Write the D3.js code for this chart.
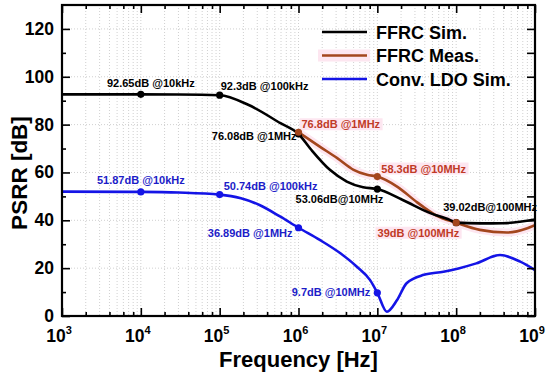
<!DOCTYPE html>
<html>
<head>
<meta charset="utf-8">
<script src="https://cdn.jsdelivr.net/npm/d3@7"></script>
<style>
  body { margin: 0; background: #fff; }
  text { font-family: Arial, "Liberation Sans", sans-serif; font-weight: bold; }
</style>
</head>
<body>
<div id="chart"></div>
<script>
// frequency points (Hz) and PSRR (dB)
var simFreq = [1e3, 1e4, 3e4, 1e5, 2.3e5, 5.9e5, 1e6, 1.45e6, 2.5e6, 4.1e6, 6.6e6, 1e7, 2.1e7, 4.7e7, 8.3e7, 1e8, 2e8, 4e8, 1e9];
var simVal  = [92.65, 92.65, 92.6, 92.3, 88.3, 80.6, 76.08, 69.5, 61.1, 56.2, 53.8, 53.06, 48.5, 43, 40.2, 39.02, 38.7, 38.8, 40.3];

var measFreq = [1e6, 1.86e6, 3.1e6, 5e6, 7.4e6, 1e7, 1.8e7, 3.2e7, 5.6e7, 1e8, 2e8, 4.4e8, 8e8, 1e9];
var measVal  = [76.8, 70.8, 66, 61.1, 59, 58.3, 54, 47.5, 42, 39, 36, 34.9, 36.7, 38];

var convFreq = [1e3, 1e4, 3e4, 1e5, 1.86e5, 3.2e5, 5.9e5, 1e6, 1.86e6, 3.4e6, 5.5e6, 8.1e6, 1e7, 1.32e7, 1.78e7, 2.35e7, 3.9e7, 6.9e7, 1.07e8, 1.8e8, 3.6e8, 6.5e8, 1e9];
var convVal  = [52, 51.87, 51.6, 50.74, 49.2, 46.4, 41.5, 36.89, 31.8, 26.2, 20.6, 15, 9.7, 1.8, 6.7, 13.7, 17.2, 18.5, 19.9, 22, 25.5, 22.7, 19.2];

var xMajor = [1e3, 1e4, 1e5, 1e6, 1e7, 1e8, 1e9];
var xExp   = ["3", "4", "5", "6", "7", "8", "9"];
var yMajor = [0, 20, 40, 60, 80, 100, 120];

var legendNames = ["FFRC Sim.", "FFRC Meas.", "Conv. LDO Sim."];

// marked points: series index, frequency, value, label
var markSeries = [0, 0, 0, 0, 0, 1, 1, 1, 2, 2, 2, 2];
var markFreq   = [1e4, 1e5, 1e6, 1e7, 1e8, 1e6, 1e7, 1e8, 1e4, 1e5, 1e6, 1e7];
var markVal    = [92.65, 92.3, 76.08, 53.06, 39.02, 76.8, 58.3, 39, 51.87, 50.74, 36.89, 9.7];
var markText   = ["92.65dB @10kHz", "92.3dB @100kHz", "76.08dB @1MHz", "53.06dB@10MHz", "39.02dB@100MHz",
                  "76.8dB @1MHz", "58.3dB @10MHz", "39dB @100MHz",
                  "51.87dB @10kHz", "50.74dB @100kHz", "36.89dB @1MHz", "9.7dB @10MHz"];

// label placement relative to its point
var labelLayout = [
  {dx: 10, dy: -7, anchor: "middle"},
  {dx: 1, dy: -5, anchor: "start"},
  {dx: -2, dy: 6, anchor: "end"},
  {dx: 6, dy: 14, anchor: "end"},
  {dx: -13, dy: -12, anchor: "start"},
  {dx: 3, dy: -4, anchor: "start"},
  {dx: 4, dy: -4, anchor: "start"},
  {dx: 3, dy: 14, anchor: "end"},
  {dx: 0, dy: -8, anchor: "middle"},
  {dx: 4, dy: -5, anchor: "start"},
  {dx: -6, dy: 9, anchor: "end"},
  {dx: -7, dy: 3, anchor: "end"}
];

var lineColors  = ["#000000", "#a3461d", "#1414e6"];
var labelColors = ["#000000", "#c03a26", "#1c1cc8"];

var width = 550, height = 377;
var pLeft = 62, pRight = 535, pTop = 5, pBottom = 316;

var svg = d3.select("#chart").append("svg")
  .attr("width", width)
  .attr("height", height);

var x = d3.scaleLog().domain([1e3, 1e9]).range([pLeft, pRight]);
var y = d3.scaleLinear().domain([0, 130]).range([pBottom, pTop]);

// minor positions 2..9 in every decade
var xMinorAll = [];
var xMinorTick = [];
for (var e = 3; e < 9; e++) {
  for (var m = 2; m <= 9; m++) {
    xMinorAll.push(m * Math.pow(10, e));
    if (m % 2 == 0) xMinorTick.push(m * Math.pow(10, e));
  }
}
var yMinor = [10, 30, 50, 70, 90, 110];

// grid
var grid = svg.append("g").attr("class", "grid");
grid.selectAll("line.vx")
  .data(xMinorAll.concat(xMajor.slice(1, -1)))
  .enter().append("line")
  .attr("x1", function(d) { return x(d); })
  .attr("x2", function(d) { return x(d); })
  .attr("y1", pTop).attr("y2", pBottom)
  .style("stroke", "#c4c4c4")
  .style("stroke-width", 0.8)
  .style("stroke-dasharray", "1,2");
grid.selectAll("line.hy")
  .data(yMajor.slice(1))
  .enter().append("line")
  .attr("x1", pLeft).attr("x2", pRight)
  .attr("y1", function(d) { return y(d); })
  .attr("y2", function(d) { return y(d); })
  .style("stroke", "#c4c4c4")
  .style("stroke-width", 0.8)
  .style("stroke-dasharray", "1,2");

// faint pink highlight behind the measured curve (as in the scan)
var line = d3.line()
  .x(function(d) { return x(d[0]); })
  .y(function(d) { return y(d[1]); })
  .curve(d3.curveMonotoneX);

var measPts = d3.zip(measFreq, measVal);
svg.append("path")
  .attr("d", line(measPts))
  .style("fill", "none")
  .style("stroke", "#fde6f0")
  .style("stroke-width", 8);

// curves
var seriesPts = [d3.zip(simFreq, simVal), measPts, d3.zip(convFreq, convVal)];
[2, 1, 0].forEach(function(i) {
  svg.append("path")
    .attr("d", line(seriesPts[i]))
    .style("fill", "none")
    .style("stroke", lineColors[i])
    .style("stroke-width", 2.6);
});

// axes with inward ticks
function addAxis(axis, tx, ty) {
  var g = svg.append("g").attr("transform", "translate(" + tx + "," + ty + ")").call(axis);
  g.selectAll("text").remove();
  g.select(".domain").remove();
  g.selectAll("line").style("stroke", "#000").style("stroke-width", 1.6);
  return g;
}
addAxis(d3.axisBottom(x).tickValues(xMajor).tickSize(-8), 0, pBottom);
addAxis(d3.axisBottom(x).tickValues(xMinorTick).tickSize(-4), 0, pBottom);
addAxis(d3.axisTop(x).tickValues(xMajor).tickSize(-8), 0, pTop);
addAxis(d3.axisTop(x).tickValues(xMinorTick).tickSize(-4), 0, pTop);
addAxis(d3.axisLeft(y).tickValues(yMajor).tickSize(-8), pLeft, 0);
addAxis(d3.axisLeft(y).tickValues(yMinor).tickSize(-4), pLeft, 0);
addAxis(d3.axisRight(y).tickValues(yMajor).tickSize(-8), pRight, 0);
addAxis(d3.axisRight(y).tickValues(yMinor).tickSize(-8), pRight, 0);

// frame
svg.append("rect")
  .attr("x", pLeft).attr("y", pTop)
  .attr("width", pRight - pLeft).attr("height", pBottom - pTop)
  .style("fill", "none")
  .style("stroke", "#000")
  .style("stroke-width", 2.2);

// tick labels
svg.selectAll("text.ylab")
  .data(yMajor)
  .enter().append("text")
  .attr("x", pLeft - 8)
  .attr("y", function(d) { return y(d) + 6; })
  .attr("text-anchor", "end")
  .style("font-size", "17.5px")
  .text(function(d) { return d; });

var xl = svg.selectAll("text.xlab")
  .data(xMajor)
  .enter().append("text")
  .attr("x", function(d) { return x(d) - 3; })
  .attr("y", 342)
  .attr("text-anchor", "middle")
  .style("font-size", "17.5px");
xl.append("tspan").text("10");
xl.append("tspan")
  .attr("dy", -8)
  .style("font-size", "11px")
  .text(function(d, i) { return xExp[i]; });

// axis titles
svg.append("text")
  .attr("x", (pLeft + pRight) / 2)
  .attr("y", 367)
  .attr("text-anchor", "middle")
  .style("font-size", "22px")
  .text("Frequency [Hz]");
svg.append("text")
  .attr("transform", "translate(27,173) rotate(-90)")
  .attr("text-anchor", "middle")
  .style("font-size", "22.5px")
  .text("PSRR [dB]");

// markers and labels
var marks = svg.append("g").attr("class", "marks");
markFreq.forEach(function(f, i) {
  var px = x(f), py = y(markVal[i]), s = markSeries[i], lay = labelLayout[i];
  if (s == 1) {
    var tmp = marks.append("text")
      .attr("x", px + lay.dx).attr("y", py + lay.dy)
      .attr("text-anchor", lay.anchor)
      .style("font-size", "11px")
      .text(markText[i]);
    var bb = tmp.node().getBBox();
    tmp.remove();
    marks.append("rect")
      .attr("x", bb.x - 2).attr("y", bb.y)
      .attr("width", bb.width + 4).attr("height", bb.height)
      .style("fill", "#fde6f0");
  }
  marks.append("circle")
    .attr("cx", px).attr("cy", py).attr("r", 3.6)
    .style("fill", lineColors[s]);
  marks.append("text")
    .attr("x", px + lay.dx).attr("y", py + lay.dy)
    .attr("text-anchor", lay.anchor)
    .style("font-size", "11px")
    .style("fill", labelColors[s])
    .text(markText[i]);
});

// legend
var legend = svg.append("g").attr("class", "legend");
legend.selectAll("g")
  .data(legendNames)
  .enter()
  .append("g")
  .each(function(d, i) {
    var g = d3.select(this);
    var ly = 32 + i * 23.5;
    if (i == 1) {
      g.append("rect").attr("x", 318).attr("y", ly - 6).attr("width", 52).attr("height", 12)
        .style("fill", "#fde6f0");
    }
    g.append("line")
      .attr("x1", 322).attr("x2", 367)
      .attr("y1", ly).attr("y2", ly)
      .style("stroke", lineColors[i])
      .style("stroke-width", 2.6);
    g.append("text")
      .attr("x", 376)
      .attr("y", ly + 6.5)
      .style("font-size", "18px")
      .text(d);
  });
</script>
</body>
</html>
